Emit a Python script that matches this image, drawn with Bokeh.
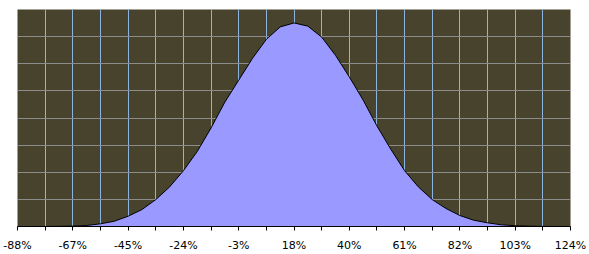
from bokeh.plotting import figure
from bokeh.models import Range1d, FixedTicker, Grid
from bokeh.embed import file_html
from bokeh.resources import INLINE

# Return bins (%) - one point every 5.3 %
x_values = [-87.7, -82.4, -77.1, -71.8, -66.5, -61.2, -55.9, -50.6, -45.3, -40.0,
            -34.7, -29.4, -24.1, -18.8, -13.5, -8.2, -2.9, 2.4, 7.7, 13.0,
            18.3, 23.6, 28.9, 34.2, 39.5, 44.8, 50.1, 55.4, 60.7, 66.0,
            71.3, 76.6, 81.9, 87.2, 92.5, 97.8, 103.1, 108.4, 113.7, 119.0, 124.3]
# Frequency (arbitrary units, 8 grid bands)
freq = [0.0, 0.0, 0.002, 0.006, 0.015, 0.037, 0.099, 0.194, 0.378, 0.624,
        0.991, 1.457, 2.055, 2.763, 3.633, 4.587, 5.394, 6.202, 6.899, 7.358,
        7.505, 7.387, 6.983, 6.312, 5.516, 4.661, 3.706, 2.851, 2.055, 1.457,
        0.991, 0.661, 0.404, 0.231, 0.136, 0.062, 0.029, 0.011, 0.004, 0.002, 0.0]
tick_labels = ["-88%", "-67%", "-45%", "-24%", "-3%", "18%", "40%", "61%", "82%", "103%", "124%"]
y_grid_values = [0, 1, 2, 3, 4, 5, 6, 7, 8]

W, H = 589, 254
p = figure(width=W, height=H, output_backend="svg", toolbar_location=None,
           x_range=Range1d(x_values[0], x_values[-1]), y_range=Range1d(0, 8),
           y_axis_location=None, min_border_left=17, min_border_right=19,
           min_border_top=9, min_border_bottom=27)
p.background_fill_color = "#48432D"
p.border_fill_color = "white"
p.outline_line_color = None

grid_ticks = x_values[::2]
p.xaxis.ticker = FixedTicker(ticks=grid_ticks)
overrides = {}
for k, t in enumerate(grid_ticks):
    overrides[t] = tick_labels[k // 2] if k % 2 == 0 else ""
p.xaxis.major_label_overrides = overrides
p.xaxis.major_tick_out = 4
p.xaxis.major_tick_in = 0
p.xaxis.minor_tick_line_color = None
p.xaxis.axis_line_color = "black"
p.xaxis.major_tick_line_color = "black"
p.xaxis.major_label_text_font = "DejaVu Sans"
p.xaxis.major_label_text_font_size = "11px"
p.xaxis.major_label_text_color = "black"
p.xaxis.major_label_standoff = 8

p.xgrid.ticker = FixedTicker(ticks=grid_ticks)
p.xgrid.grid_line_color = "#8DB3E2"
p.xgrid.grid_line_width = 1
for g in p.ygrid:
    g.visible = False
ygrid = Grid(dimension=1, ticker=FixedTicker(ticks=y_grid_values),
             grid_line_color="#8C8C8C", grid_line_width=1)
p.add_layout(ygrid)

p.varea(x=x_values, y1=[0] * len(freq), y2=freq, fill_color="#9999FF", fill_alpha=1.0)
p.line(x=x_values, y=freq, line_color="black", line_width=1)

open("out.html", "w").write(file_html(p, INLINE))
